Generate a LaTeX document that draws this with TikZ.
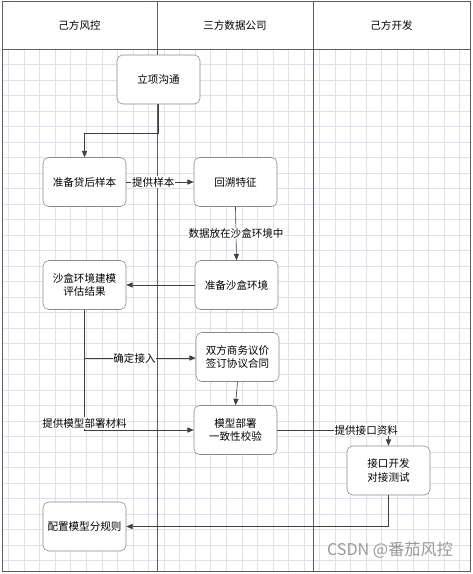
\documentclass[tikz,border=0pt]{standalone}
\usepackage{fontspec}
\usepackage{xcolor}
\usepackage{tikz}
\usetikzlibrary{arrows.meta,positioning,calc}
\newfontfamily\cjk{Noto Sans CJK SC}
\definecolor{lanec}{HTML}{5C5C70}
\definecolor{gridc}{HTML}{E0E0EA}
\definecolor{boxc}{HTML}{8A8A8A}

\begin{document}
\begin{tikzpicture}[x=0.025cm,y=-0.025cm,
  every node/.style={font=\cjk\fontsize{7.5}{9.6}\selectfont},
  task/.style={draw=boxc,fill=white,rounded corners=4pt,minimum width=2.075cm,minimum height=1.225cm,align=center,inner sep=1pt},
  lane/.style={draw=lanec,line width=0.6pt},
  lab/.style={fill=white,inner sep=0.5pt},
  arr/.style={-{Triangle[length=1.6mm,width=1.3mm]},draw=black!75,line width=0.45pt}]
 \useasboundingbox (0,0) rectangle (473,574);
 % grid
 \draw[gridc,line width=0.35pt] (2,49) rectangle (470,571);
 \foreach \i in {0,...,29} \draw[gridc,line width=0.35pt] (8.5+15.55*\i,49) -- (8.5+15.55*\i,571);
 \foreach \j in {1,...,33} \draw[gridc,line width=0.35pt] (2,49+15.5*\j) -- (470,49+15.5*\j);
 % lanes
 \draw[lane,fill=white] (2,1) rectangle (470,49);
 \draw[lane] (2,1) rectangle (470,571);
 \draw[lane] (157.5,1) -- (157.5,571);
 \draw[lane] (313,1) -- (313,571);
 \node (h1) at (79.5,25)  {己方风控};
 \node (h2) at (235,25)   {三方数据公司};
 \node (h3) at (391.5,25) {己方开发};
 % tasks
 \node[task] (lx) at (158.5,79.5) {立项沟通};
 \node[task] (yb) at (84.5,182)   {准备贷后样本};
 \node[task] (hs) at (235.5,182)  {回溯特征};
 \node[task] (sh) at (236.5,285)  {准备沙盒环境};
 \node[task] (pg) at (84.5,285)   {沙盒环境建模\\评估结果};
 \node[task] (sw) at (237.5,357)  {双方商务议价\\签订协议合同};
 \node[task] (bs) at (235.5,430)  {模型部署\\一致性校验};
 \node[task] (jk) at (388.5,470.5) {接口开发\\对接测试};
 \node[task] (pz) at (84.5,526.5) {配置模型分规则};
 \coordinate (k1) at (158.5,133);
 \coordinate (k2) at (84.5,358);
 % connectors
 \draw[arr] (lx.south) -- (k1) -| (yb.north);
 \draw[arr] (yb.east) -- node[lab,pos=0.4] {提供样本} (hs.west);
 \draw[arr] (hs.south) -- node[lab] {数据放在沙盒环境中} (sh.north);
 \draw[arr] (sh.west) -- (pg.east);
 \draw[arr] (k2) -- node[lab,pos=0.45] {确定接入} (k2 -| sw.west);
 \draw[arr] (pg.south) |- node[lab,pos=0.5,yshift=0.175cm] {提供模型部署材料} (bs.west);
 \draw[arr] (sw.south) -- (bs.north);
 \draw[arr] (bs.east) -| node[lab,pos=0.4] {提供接口资料} (jk.north);
 \draw[arr] (jk.south) |- (pz.east);
 \node[text=black!40,font=\cjk\fontsize{11.5}{13}\selectfont] (wm) at (390,550) {CSDN @番茄风控};
\end{tikzpicture}
\end{document}
